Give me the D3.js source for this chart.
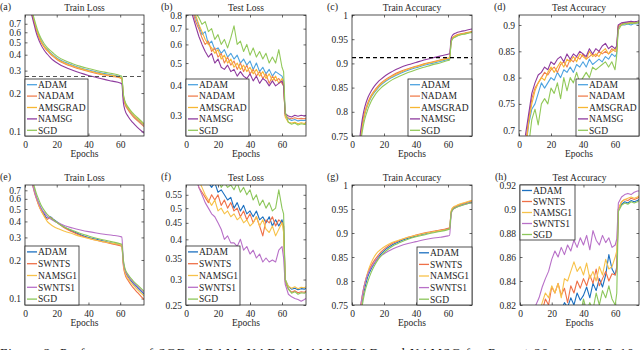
<!DOCTYPE html>
<html>
<head>
<meta charset="utf-8">
<script src="https://cdn.jsdelivr.net/npm/d3@7/dist/d3.min.js"></script>
<style>
  html, body { margin: 0; padding: 0; background: #fff; }
  svg { display: block; }
  svg text { font-family: "Liberation Serif", "DejaVu Serif", serif !important; }
</style>
</head>
<body>
<svg id="chart" width="640" height="350"></svg>
<script>
// epochs sampled for the smooth (train) and noisy (test) curves
const EP_SMOOTH = [4,5,6,7,8,10,12,14,16,18,21,25,30,35,40,45,50,55,60,61,62,63,65,68,71,75];
const EP_NOISY = [4,6,8,10,12,14,16,18,20,22,24,26,28,30,32,34,36,38,40,42,44,46,48,50,52,54,56,58,60,61,62,64,66,68,70,72,74,75];

const X_TICKS = [0, 20, 40, 60];
const NAMES_TOP = ['ADAM', 'NADAM', 'AMSGRAD', 'NAMSG', 'SGD'];
const NAMES_BOT = ['ADAM', 'SWNTS', 'NAMSG1', 'SWNTS1', 'SGD'];
const COLORS_TOP = ['#4da3e0', '#f08050', '#f7b733', '#8e3b9e', '#92c95a'];
const COLORS_BOT = ['#1c70c0', '#ef7048', '#f7c24a', '#b870c8', '#8cc65a'];

// (a) train loss
const trainLossTop = [
  [0.90,0.80,0.72,0.65,0.60,0.52,0.47,0.44,0.415,0.395,0.37,0.35,0.33,0.315,0.303,0.293,0.284,0.277,0.268,0.265,0.19,0.168,0.15,0.134,0.123,0.111],
  [0.88,0.78,0.70,0.63,0.58,0.505,0.46,0.43,0.405,0.385,0.36,0.34,0.322,0.307,0.295,0.285,0.277,0.27,0.262,0.258,0.186,0.164,0.147,0.131,0.121,0.109],
  [0.89,0.79,0.71,0.64,0.59,0.51,0.465,0.435,0.41,0.39,0.365,0.345,0.326,0.311,0.299,0.289,0.28,0.274,0.265,0.262,0.192,0.17,0.152,0.136,0.125,0.113],
  [0.84,0.75,0.67,0.60,0.55,0.48,0.435,0.405,0.38,0.36,0.34,0.32,0.302,0.287,0.275,0.265,0.256,0.248,0.24,0.236,0.168,0.147,0.131,0.117,0.107,0.097],
  [0.92,0.83,0.75,0.68,0.62,0.54,0.49,0.455,0.43,0.41,0.383,0.36,0.34,0.324,0.312,0.301,0.292,0.284,0.274,0.27,0.196,0.173,0.155,0.139,0.128,0.115]
];
// (b) test loss
const testLossTop = [
  [0.85,0.78,0.72,0.66,0.68,0.6,0.62,0.57,0.58,0.55,0.57,0.53,0.55,0.52,0.54,0.5,0.52,0.49,0.51,0.47,0.5,0.46,0.48,0.45,0.47,0.44,0.46,0.45,0.44,0.42,0.3,0.29,0.285,0.288,0.284,0.286,0.285,0.287],
  [0.84,0.75,0.7,0.64,0.6,0.62,0.56,0.58,0.53,0.55,0.5,0.53,0.49,0.51,0.47,0.5,0.46,0.49,0.45,0.47,0.44,0.46,0.43,0.45,0.41,0.44,0.42,0.43,0.41,0.4,0.3,0.292,0.29,0.293,0.29,0.291,0.29,0.292],
  [0.86,0.8,0.73,0.68,0.63,0.6,0.58,0.55,0.57,0.52,0.54,0.5,0.52,0.48,0.5,0.47,0.49,0.46,0.48,0.45,0.47,0.44,0.46,0.43,0.45,0.42,0.44,0.41,0.43,0.41,0.295,0.28,0.278,0.28,0.276,0.279,0.277,0.28],
  [0.8,0.72,0.65,0.6,0.56,0.53,0.55,0.5,0.52,0.48,0.47,0.49,0.46,0.47,0.44,0.46,0.44,0.43,0.45,0.42,0.44,0.41,0.43,0.42,0.4,0.42,0.4,0.41,0.42,0.4,0.305,0.298,0.295,0.3,0.297,0.3,0.298,0.3],
  [0.9,0.82,0.78,0.73,0.75,0.68,0.7,0.63,0.66,0.6,0.63,0.58,0.64,0.72,0.6,0.62,0.56,0.6,0.54,0.58,0.53,0.56,0.52,0.55,0.5,0.53,0.5,0.57,0.48,0.46,0.31,0.28,0.275,0.278,0.273,0.276,0.274,0.276]
];
// (c) train accuracy
const trainAccTop = [
  [0.70,0.735,0.76,0.78,0.795,0.815,0.83,0.84,0.848,0.855,0.863,0.871,0.879,0.886,0.891,0.896,0.900,0.904,0.908,0.909,0.945,0.952,0.956,0.96,0.962,0.965],
  [0.705,0.74,0.765,0.785,0.80,0.82,0.834,0.844,0.852,0.859,0.867,0.875,0.883,0.889,0.894,0.899,0.903,0.907,0.911,0.912,0.947,0.954,0.958,0.961,0.963,0.966],
  [0.70,0.737,0.762,0.782,0.797,0.817,0.832,0.842,0.85,0.857,0.865,0.873,0.881,0.888,0.893,0.898,0.902,0.906,0.91,0.911,0.946,0.953,0.957,0.96,0.962,0.965],
  [0.715,0.75,0.775,0.795,0.81,0.83,0.843,0.853,0.861,0.867,0.875,0.883,0.891,0.897,0.902,0.907,0.911,0.915,0.919,0.92,0.952,0.959,0.963,0.966,0.968,0.971],
  [0.69,0.725,0.75,0.77,0.785,0.806,0.822,0.833,0.842,0.849,0.857,0.866,0.874,0.881,0.887,0.892,0.897,0.901,0.906,0.907,0.944,0.951,0.955,0.959,0.961,0.964]
];
// (d) test accuracy
const testAccTop = [
  [0.66,0.71,0.74,0.75,0.77,0.79,0.78,0.79,0.80,0.795,0.81,0.80,0.815,0.81,0.82,0.81,0.825,0.82,0.83,0.82,0.835,0.825,0.83,0.835,0.83,0.84,0.835,0.845,0.84,0.845,0.895,0.9,0.9,0.902,0.9,0.903,0.902,0.903],
  [0.67,0.72,0.76,0.78,0.79,0.80,0.81,0.805,0.815,0.82,0.81,0.825,0.83,0.82,0.835,0.83,0.84,0.835,0.845,0.835,0.84,0.845,0.84,0.85,0.845,0.85,0.845,0.855,0.85,0.85,0.898,0.902,0.904,0.903,0.905,0.904,0.905,0.906],
  [0.66,0.715,0.75,0.775,0.79,0.8,0.795,0.81,0.82,0.81,0.82,0.83,0.82,0.835,0.83,0.84,0.83,0.845,0.84,0.835,0.85,0.84,0.845,0.84,0.85,0.855,0.845,0.85,0.855,0.85,0.897,0.9,0.902,0.904,0.903,0.905,0.904,0.905],
  [0.69,0.73,0.77,0.79,0.805,0.81,0.82,0.815,0.83,0.825,0.835,0.84,0.83,0.845,0.835,0.845,0.84,0.85,0.845,0.84,0.855,0.845,0.855,0.85,0.86,0.865,0.855,0.86,0.855,0.86,0.9,0.904,0.905,0.906,0.907,0.906,0.907,0.908],
  [0.63,0.67,0.72,0.74,0.71,0.75,0.76,0.75,0.78,0.77,0.79,0.76,0.80,0.775,0.80,0.79,0.81,0.79,0.80,0.81,0.80,0.82,0.815,0.82,0.825,0.83,0.82,0.83,0.815,0.84,0.89,0.9,0.903,0.902,0.904,0.903,0.905,0.906]
];
// (e) train loss
const trainLossBot = [
  [0.88,0.78,0.70,0.63,0.58,0.51,0.46,0.425,0.435,0.415,0.39,0.36,0.335,0.315,0.3,0.29,0.28,0.27,0.262,0.26,0.19,0.165,0.148,0.132,0.121,0.108],
  [0.85,0.75,0.67,0.61,0.56,0.49,0.445,0.415,0.43,0.41,0.385,0.355,0.33,0.31,0.296,0.285,0.276,0.267,0.258,0.255,0.18,0.155,0.138,0.122,0.111,0.098],
  [0.87,0.77,0.69,0.62,0.57,0.49,0.44,0.40,0.38,0.365,0.35,0.335,0.32,0.305,0.295,0.285,0.277,0.27,0.263,0.26,0.185,0.16,0.143,0.128,0.117,0.105],
  [0.84,0.75,0.68,0.62,0.58,0.51,0.47,0.44,0.42,0.405,0.39,0.37,0.355,0.343,0.333,0.325,0.318,0.312,0.305,0.302,0.195,0.168,0.15,0.135,0.124,0.111],
  [0.92,0.82,0.74,0.67,0.62,0.54,0.49,0.455,0.43,0.41,0.385,0.36,0.34,0.322,0.308,0.296,0.286,0.277,0.268,0.265,0.2,0.172,0.154,0.138,0.127,0.114]
];
// (f) test loss
const testLossBot = [
  [0.75,0.68,0.64,0.62,0.6,0.6,0.58,0.6,0.56,0.57,0.55,0.53,0.54,0.5,0.52,0.49,0.51,0.48,0.49,0.47,0.49,0.46,0.47,0.45,0.47,0.44,0.46,0.44,0.46,0.44,0.3,0.285,0.28,0.282,0.279,0.281,0.28,0.282],
  [0.72,0.64,0.58,0.56,0.54,0.52,0.55,0.53,0.55,0.51,0.53,0.5,0.52,0.49,0.5,0.47,0.49,0.46,0.48,0.45,0.47,0.44,0.41,0.46,0.45,0.47,0.44,0.46,0.45,0.44,0.295,0.28,0.274,0.277,0.273,0.275,0.274,0.276],
  [0.74,0.66,0.61,0.58,0.55,0.53,0.51,0.53,0.49,0.5,0.48,0.49,0.47,0.48,0.46,0.47,0.45,0.46,0.44,0.45,0.47,0.44,0.46,0.43,0.42,0.44,0.41,0.43,0.45,0.42,0.3,0.286,0.282,0.285,0.281,0.284,0.283,0.285],
  [0.7,0.63,0.58,0.55,0.52,0.5,0.48,0.47,0.45,0.43,0.4,0.41,0.39,0.39,0.38,0.4,0.37,0.38,0.36,0.37,0.35,0.36,0.34,0.35,0.34,0.345,0.34,0.37,0.38,0.35,0.29,0.27,0.265,0.262,0.26,0.257,0.26,0.262],
  [0.8,0.74,0.7,0.68,0.66,0.64,0.62,0.6,0.62,0.58,0.6,0.58,0.59,0.57,0.6,0.56,0.58,0.55,0.57,0.53,0.55,0.51,0.53,0.5,0.52,0.49,0.5,0.57,0.5,0.48,0.3,0.28,0.272,0.275,0.27,0.273,0.272,0.274]
];
// (g) train accuracy
const trainAccBot = [
  [0.69,0.725,0.75,0.77,0.785,0.81,0.825,0.837,0.847,0.856,0.866,0.875,0.883,0.889,0.894,0.898,0.902,0.905,0.909,0.91,0.943,0.95,0.954,0.958,0.961,0.964],
  [0.70,0.735,0.76,0.78,0.795,0.818,0.832,0.843,0.852,0.86,0.869,0.878,0.885,0.891,0.896,0.9,0.903,0.906,0.91,0.911,0.945,0.952,0.956,0.96,0.963,0.967],
  [0.69,0.73,0.757,0.778,0.795,0.82,0.838,0.851,0.86,0.866,0.873,0.88,0.886,0.891,0.895,0.899,0.902,0.905,0.908,0.909,0.946,0.953,0.957,0.961,0.964,0.968],
  [0.705,0.74,0.762,0.78,0.795,0.815,0.828,0.838,0.846,0.852,0.859,0.866,0.873,0.878,0.882,0.886,0.889,0.891,0.894,0.895,0.94,0.948,0.953,0.957,0.96,0.963],
  [0.68,0.715,0.74,0.76,0.777,0.8,0.818,0.832,0.843,0.852,0.862,0.872,0.88,0.887,0.892,0.896,0.9,0.903,0.907,0.908,0.942,0.949,0.953,0.957,0.96,0.963]
];
// (h) test accuracy
const testAccBot = [
  [0.7,0.74,0.76,0.78,0.79,0.8,0.81,0.805,0.815,0.81,0.818,0.815,0.822,0.818,0.826,0.82,0.83,0.824,0.828,0.835,0.826,0.838,0.832,0.842,0.835,0.845,0.862,0.85,0.845,0.852,0.9,0.904,0.906,0.905,0.907,0.906,0.907,0.908],
  [0.72,0.76,0.78,0.8,0.81,0.815,0.825,0.82,0.835,0.83,0.838,0.828,0.834,0.822,0.836,0.83,0.84,0.834,0.842,0.836,0.845,0.838,0.85,0.836,0.842,0.848,0.84,0.846,0.845,0.85,0.9,0.906,0.908,0.907,0.909,0.908,0.909,0.91],
  [0.72,0.76,0.79,0.805,0.812,0.822,0.83,0.826,0.836,0.83,0.838,0.826,0.842,0.84,0.848,0.856,0.848,0.852,0.845,0.855,0.842,0.848,0.84,0.852,0.845,0.858,0.85,0.852,0.86,0.865,0.9,0.906,0.908,0.909,0.91,0.909,0.91,0.911],
  [0.74,0.78,0.8,0.82,0.826,0.835,0.842,0.848,0.858,0.865,0.86,0.868,0.862,0.87,0.865,0.874,0.868,0.876,0.87,0.878,0.866,0.882,0.874,0.87,0.878,0.872,0.876,0.868,0.87,0.875,0.905,0.91,0.912,0.913,0.912,0.914,0.915,0.915],
  [0.68,0.72,0.75,0.77,0.78,0.79,0.795,0.8,0.805,0.8,0.808,0.805,0.81,0.808,0.815,0.81,0.818,0.812,0.825,0.815,0.822,0.816,0.83,0.82,0.832,0.826,0.836,0.825,0.82,0.83,0.898,0.903,0.905,0.904,0.906,0.905,0.906,0.907]
];

const LOSS_TICKS_A = [0.1, 0.2, 0.3, 0.4, 0.5, 0.6, 0.7];
const LOSS_TICKS_B = [0.3, 0.4, 0.5, 0.6, 0.7, 0.8];
const ACC_TICKS = [0.75, 0.8, 0.85, 0.9, 0.95, 1];
const ACC_TICKS_D = [0.7, 0.75, 0.8, 0.85, 0.9];
const LOSS_TICKS_F = [0.25, 0.3, 0.35, 0.4, 0.45, 0.5, 0.55];
const ACC_TICKS_H = [0.82, 0.84, 0.86, 0.88, 0.9, 0.92];

const panels = [
  { tag: '(a)', title: 'Train Loss', x0: 25, x1: 144, y0: 15, y1: 136, log: true, dom: [0.092, 0.82], ticks: LOSS_TICKS_A,
    ep: EP_SMOOTH, data: trainLossTop, names: NAMES_TOP, colors: COLORS_TOP, smooth: true, hline: 0.27,
    leg: { x: 25, y: 79, w: 63 } },
  { tag: '(b)', title: 'Test Loss', x0: 186, x1: 306, y0: 15, y1: 136, log: true, dom: [0.245, 0.8], ticks: LOSS_TICKS_B,
    ep: EP_NOISY, data: testLossTop, names: NAMES_TOP, colors: COLORS_TOP,
    leg: { x: 186, y: 79, w: 63 } },
  { tag: '(c)', title: 'Train Accuracy', x0: 352, x1: 472, y0: 15, y1: 136, log: false, dom: [0.75, 1], ticks: ACC_TICKS,
    ep: EP_SMOOTH, data: trainAccTop, names: NAMES_TOP, colors: COLORS_TOP, smooth: true, hline: 0.912,
    leg: { x: 408, y: 79, w: 64 } },
  { tag: '(d)', title: 'Test Accuracy', x0: 519, x1: 639, y0: 15, y1: 136, log: false, dom: [0.689, 0.919], ticks: ACC_TICKS_D,
    ep: EP_NOISY, data: testAccTop, names: NAMES_TOP, colors: COLORS_TOP,
    leg: { x: 576, y: 79, w: 63 } },
  { tag: '(e)', title: 'Train Loss', x0: 25, x1: 144, y0: 185, y1: 305, log: true, dom: [0.089, 0.77], ticks: LOSS_TICKS_A,
    ep: EP_SMOOTH, data: trainLossBot, names: NAMES_BOT, colors: COLORS_BOT, smooth: true,
    leg: { x: 25, y: 246, w: 54 } },
  { tag: '(f)', title: 'Test Loss', x0: 186, x1: 306, y0: 185, y1: 305, log: true, dom: [0.25, 0.59], ticks: LOSS_TICKS_F,
    ep: EP_NOISY, data: testLossBot, names: NAMES_BOT, colors: COLORS_BOT,
    leg: { x: 186, y: 246, w: 54 } },
  { tag: '(g)', title: 'Train Accuracy', x0: 352, x1: 472, y0: 185, y1: 305, log: false, dom: [0.75, 1], ticks: ACC_TICKS,
    ep: EP_SMOOTH, data: trainAccBot, names: NAMES_BOT, colors: COLORS_BOT, smooth: true,
    leg: { x: 417, y: 247, w: 55 } },
  { tag: '(h)', title: 'Test Accuracy', x0: 520, x1: 639, y0: 185, y1: 305, log: false, dom: [0.82, 0.92], ticks: ACC_TICKS_H,
    ep: EP_NOISY, data: testAccBot, names: NAMES_BOT, colors: COLORS_BOT,
    leg: { x: 520, y: 185, w: 55, h: 55 } }
];

const svg = d3.select('#chart');
const ink = '#262626';

panels.forEach((p, i) => {
  const x = d3.scaleLinear().domain([0, 75]).range([p.x0, p.x1]);
  const y = (p.log ? d3.scaleLog() : d3.scaleLinear()).domain(p.dom).range([p.y1, p.y0]);
  const g = svg.append('g');

  // clip
  const clipId = 'clip' + i;
  svg.append('clipPath').attr('id', clipId)
    .append('rect').attr('x', p.x0).attr('y', p.y0).attr('width', p.x1 - p.x0).attr('height', p.y1 - p.y0);

  // axes (ticks inside, mirrored on top/right)
  const tk = 2.5;
  const fmt = v => String(v);
  g.append('g').attr('transform', `translate(0,${p.y1})`)
    .call(d3.axisBottom(x).tickValues(X_TICKS).tickSize(-tk).tickPadding(5).tickFormat(fmt));
  g.append('g').attr('transform', `translate(0,${p.y0})`)
    .call(d3.axisTop(x).tickValues(X_TICKS).tickSize(-tk).tickFormat(''));
  g.append('g').attr('transform', `translate(${p.x0},0)`)
    .call(d3.axisLeft(y).tickValues(p.ticks).tickSize(-tk).tickPadding(4).tickFormat(fmt));
  g.append('g').attr('transform', `translate(${p.x1},0)`)
    .call(d3.axisRight(y).tickValues(p.ticks).tickSize(-tk).tickFormat(''));
  g.selectAll('.domain').remove();
  g.selectAll('.tick line').attr('stroke', ink).attr('stroke-width', 0.7);
  g.selectAll('.tick text').attr('fill', ink).attr('font-size', '9.5px');

  // series
  const line = d3.line()
    .x((d, j) => x(p.ep[j]))
    .y(d => y(d))
    .curve(p.smooth ? d3.curveMonotoneX : d3.curveLinear);
  const lines = svg.append('g').attr('clip-path', `url(#${clipId})`);
  p.data.forEach((s, k) => {
    lines.append('path').datum(s)
      .attr('d', line)
      .attr('fill', 'none')
      .attr('stroke', p.colors[k])
      .attr('stroke-width', 1.1)
      .attr('stroke-linejoin', 'round');
  });
  if (p.hline !== undefined) {
    lines.append('line')
      .attr('x1', x(0)).attr('x2', x(75))
      .attr('y1', y(p.hline)).attr('y2', y(p.hline))
      .attr('stroke', p.log ? '#555' : '#000')
      .attr('stroke-width', p.log ? 1.1 : 1.3)
      .attr('stroke-dasharray', '4,3');
  }

  // frame
  svg.append('rect')
    .attr('x', p.x0).attr('y', p.y0)
    .attr('width', p.x1 - p.x0).attr('height', p.y1 - p.y0)
    .attr('fill', 'none').attr('stroke', ink).attr('stroke-width', 0.8);

  // legend
  const lh = p.leg.h || (p.y1 - p.leg.y);
  const step = lh / 5;
  const leg = svg.append('g');
  leg.append('rect')
    .attr('x', p.leg.x).attr('y', p.leg.y)
    .attr('width', p.leg.w).attr('height', lh)
    .attr('fill', '#fff').attr('stroke', ink).attr('stroke-width', 0.8);
  p.names.forEach((n, k) => {
    const cy = p.leg.y + step * (k + 0.5);
    leg.append('line')
      .attr('x1', p.leg.x + 2).attr('x2', p.leg.x + 12)
      .attr('y1', cy).attr('y2', cy)
      .attr('stroke', p.colors[k]).attr('stroke-width', 1.3);
    leg.append('text')
      .attr('x', p.leg.x + 13).attr('y', cy + 3.3)
      .attr('font-size', '9.5px').attr('fill', ink)
      .text(n);
  });

  // labels
  svg.append('text')
    .attr('x', (p.x0 + p.x1) / 2).attr('y', p.y0 - 4)
    .attr('text-anchor', 'middle').attr('font-size', '9.5px').attr('fill', ink)
    .text(p.title);
  svg.append('text')
    .attr('x', (p.x0 + p.x1) / 2).attr('y', p.y1 + 21)
    .attr('text-anchor', 'middle').attr('font-size', '9.5px').attr('fill', ink)
    .text('Epochs');
  svg.append('text')
    .attr('x', p.x0 - 25).attr('y', p.y0 - 5)
    .attr('font-size', '10px').attr('fill', ink)
    .text(p.tag);
});

// figure caption, cut by the bottom edge
svg.append('text')
  .attr('x', 0).attr('y', 357)
  .attr('font-size', '13px').attr('fill', '#111')
  .attr('textLength', 638)
  .text('Figure 2: Performance of SGD, ADAM, NADAM, AMSGRAD and NAMSG for Resnet-20 on CIFAR-10.');
</script>
</body>
</html>
